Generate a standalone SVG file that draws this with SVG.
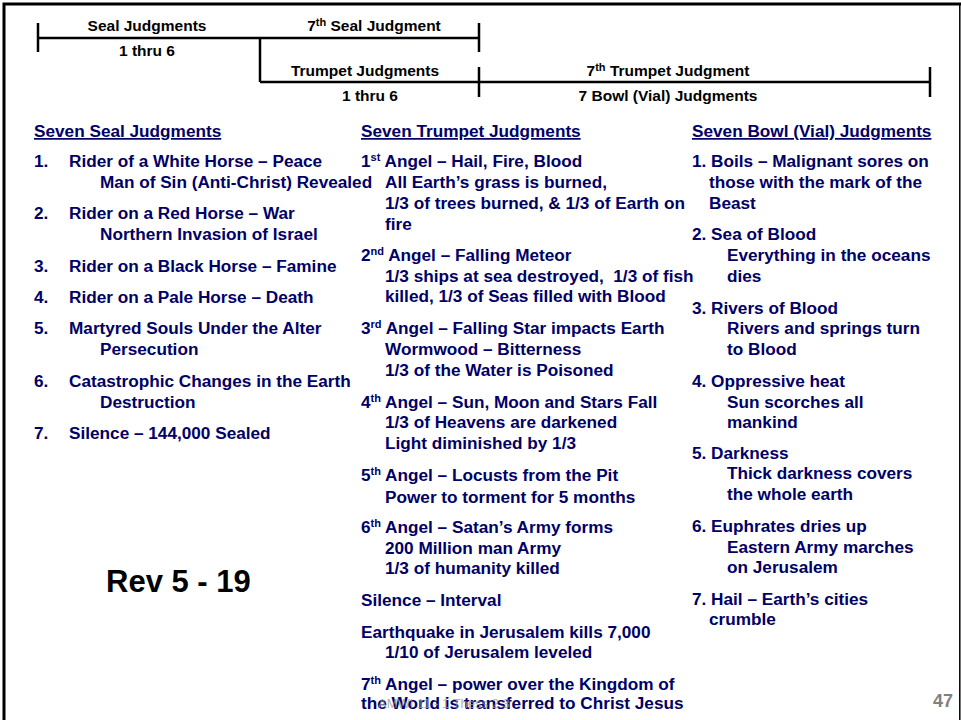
<svg xmlns="http://www.w3.org/2000/svg" width="961" height="720" viewBox="0 0 961 720">
<style>
.tl{font-family:"Liberation Sans",Arial,sans-serif;font-weight:bold;font-size:15.5px;fill:#000;text-anchor:middle}
.c{font-family:"Liberation Sans",Arial,sans-serif;font-weight:bold;font-size:17.2px;fill:#000066}
.h{text-decoration:underline}
.sup{font-size:11px}
.ln{stroke:#000;stroke-width:2.5;fill:none}
</style>
<rect width="961" height="720" fill="#fff"/>
<g id="frame">
<path d="M4,720 V4 H961" stroke="#000" stroke-width="3" fill="none"/>
<path d="M959.8,4 V720" stroke="#000" stroke-width="1.5" fill="none"/>
</g>
<g id="connectors">
<line class="ln" x1="38" y1="38" x2="479" y2="38"/>
<line class="ln" x1="38" y1="23" x2="38" y2="52"/>
<line class="ln" x1="479" y1="23" x2="479" y2="52"/>
<line class="ln" x1="260" y1="38" x2="260" y2="82"/>
<line class="ln" x1="260" y1="82" x2="930" y2="82"/>
<line class="ln" x1="479" y1="67" x2="479" y2="97"/>
<line class="ln" x1="930" y1="67" x2="930" y2="97"/>
</g>
<g id="timeline-labels">
<text class="tl" x="147" y="31">Seal Judgments</text>
<text class="tl" x="147" y="56">1 thru 6</text>
<text class="tl" x="374" y="31">7<tspan class="sup" dy="-5">th</tspan><tspan dy="5"> Seal Judgment</tspan></text>
<text class="tl" x="365" y="76">Trumpet Judgments</text>
<text class="tl" x="370" y="101">1 thru 6</text>
<text class="tl" x="668" y="76">7<tspan class="sup" dy="-5">th</tspan><tspan dy="5"> Trumpet Judgment</tspan></text>
<text class="tl" x="668" y="101">7 Bowl (Vial) Judgments</text>
</g>
<g id="seal-column">
<text class="c h" x="34" y="137">Seven Seal Judgments</text>
<text class="c" x="34" y="167">1.</text><text class="c" x="69" y="167">Rider of a White Horse – Peace</text>
<text class="c" x="100" y="188">Man of Sin (Anti-Christ) Revealed</text>
<text class="c" x="34" y="219">2.</text><text class="c" x="69" y="219">Rider on a Red Horse – War</text>
<text class="c" x="100" y="240">Northern Invasion of Israel</text>
<text class="c" x="34" y="272">3.</text><text class="c" x="69" y="272">Rider on a Black Horse – Famine</text>
<text class="c" x="34" y="303">4.</text><text class="c" x="69" y="303">Rider on a Pale Horse – Death</text>
<text class="c" x="34" y="334">5.</text><text class="c" x="69" y="334">Martyred Souls Under the Alter</text>
<text class="c" x="100" y="355">Persecution</text>
<text class="c" x="34" y="387">6.</text><text class="c" x="69" y="387">Catastrophic Changes in the Earth</text>
<text class="c" x="100" y="408">Destruction</text>
<text class="c" x="34" y="439">7.</text><text class="c" x="69" y="439">Silence – 144,000 Sealed</text>
</g>
<g id="trumpet-column">
<text class="c h" x="361" y="137">Seven Trumpet Judgments</text>
<text class="c" x="361" y="167">1<tspan class="sup" dy="-6">st</tspan><tspan dy="6"> Angel – Hail, Fire, Blood</tspan></text>
<text class="c" x="385" y="188">All Earth’s grass is burned,</text>
<text class="c" x="385" y="209">1/3 of trees burned, &amp; 1/3 of Earth on</text>
<text class="c" x="385" y="230">fire</text>
<text class="c" x="361" y="261">2<tspan class="sup" dy="-6">nd</tspan><tspan dy="6"> Angel – Falling Meteor</tspan></text>
<text class="c" x="385" y="282" xml:space="preserve">1/3 ships at sea destroyed,  1/3 of fish</text>
<text class="c" x="385" y="302">killed, 1/3 of Seas filled with Blood</text>
<text class="c" x="361" y="334">3<tspan class="sup" dy="-6">rd</tspan><tspan dy="6"> Angel – Falling Star impacts Earth</tspan></text>
<text class="c" x="385" y="355">Wormwood – Bitterness</text>
<text class="c" x="385" y="376">1/3 of the Water is Poisoned</text>
<text class="c" x="361" y="408">4<tspan class="sup" dy="-6">th</tspan><tspan dy="6"> Angel – Sun, Moon and Stars Fall</tspan></text>
<text class="c" x="385" y="428">1/3 of Heavens are darkened</text>
<text class="c" x="385" y="449">Light diminished by 1/3</text>
<text class="c" x="361" y="481">5<tspan class="sup" dy="-6">th</tspan><tspan dy="6"> Angel – Locusts from the Pit</tspan></text>
<text class="c" x="385" y="503">Power to torment for 5 months</text>
<text class="c" x="361" y="533">6<tspan class="sup" dy="-6">th</tspan><tspan dy="6"> Angel – Satan’s Army forms</tspan></text>
<text class="c" x="385" y="554">200 Million man Army</text>
<text class="c" x="385" y="574">1/3 of humanity killed</text>
<text class="c" x="361" y="606">Silence – Interval</text>
<text class="c" x="361" y="638">Earthquake in Jerusalem kills 7,000</text>
<text class="c" x="385" y="658">1/10 of Jerusalem leveled</text>
<text class="c" x="361" y="690">7<tspan class="sup" dy="-6">th</tspan><tspan dy="6"> Angel – power over the Kingdom of</tspan></text>
<text class="c" x="361" y="709">the World is transferred to Christ Jesus</text>
</g>
<g id="bowl-column">
<text class="c h" x="692" y="137">Seven Bowl (Vial) Judgments</text>
<text class="c" x="692" y="167">1. Boils – Malignant sores on</text>
<text class="c" x="709" y="188">those with the mark of the</text>
<text class="c" x="709" y="209">Beast</text>
<text class="c" x="692" y="240">2. Sea of Blood</text>
<text class="c" x="727" y="261">Everything in the oceans</text>
<text class="c" x="727" y="282">dies</text>
<text class="c" x="692" y="314">3. Rivers of Blood</text>
<text class="c" x="727" y="334">Rivers and springs turn</text>
<text class="c" x="727" y="355">to Blood</text>
<text class="c" x="692" y="387">4. Oppressive heat</text>
<text class="c" x="727" y="408">Sun scorches all</text>
<text class="c" x="727" y="428">mankind</text>
<text class="c" x="692" y="459">5. Darkness</text>
<text class="c" x="727" y="479">Thick darkness covers</text>
<text class="c" x="727" y="500">the whole earth</text>
<text class="c" x="692" y="532">6. Euphrates dries up</text>
<text class="c" x="727" y="553">Eastern Army marches</text>
<text class="c" x="727" y="573">on Jerusalem</text>
<text class="c" x="692" y="605">7. Hail – Earth’s cities</text>
<text class="c" x="709" y="625">crumble</text>
</g>
<g id="reference">
<text x="106" y="592" font-family="Liberation Sans, Arial, sans-serif" font-weight="bold" font-size="31" fill="#000">Rev 5 - 19</text>
</g>
<g id="footer">
<text x="378" y="708" font-family="Liberation Sans, Arial, sans-serif" font-size="13" fill="#999" fill-opacity="0.8">AMWI 11 - 1 Thess 2:3</text>
<text x="953" y="707" text-anchor="end" font-family="Liberation Sans, Arial, sans-serif" font-weight="bold" font-size="18" fill="#808080">47</text>
</g>
</svg>
